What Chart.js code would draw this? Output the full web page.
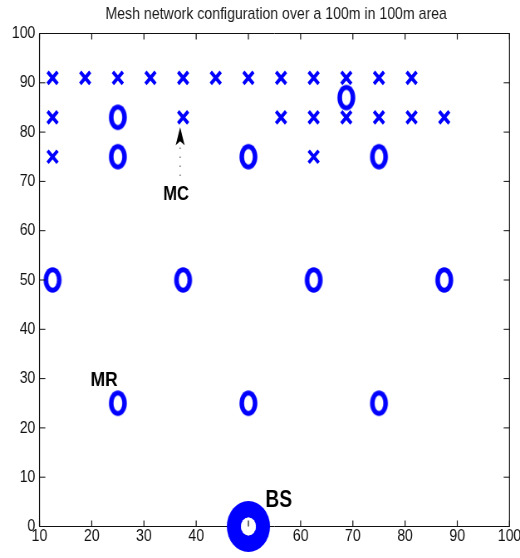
<!DOCTYPE html>
<html>
<head>
<meta charset="utf-8">
<script src="https://cdn.jsdelivr.net/npm/chart.js@4/dist/chart.umd.min.js"></script>
<style>
  html, body { margin: 0; padding: 0; background: #fff; overflow: hidden; }
  #wrap { width: 520px; height: 558px; overflow: hidden; }
  /* the figure is laid out on a wider canvas and squeezed horizontally */
  #c { transform: scaleX(0.830671); transform-origin: 0 0; }
</style>
</head>
<body>
<div id="wrap"><canvas id="c" width="626" height="558"></canvas></div>
<script>
// ---- data ----
const chartTitle = 'Mesh network configuration over a 100m in 100m area';
const xTicks = [10, 20, 30, 40, 50, 60, 70, 80, 90, 100];
const yTicks = [0, 10, 20, 30, 40, 50, 60, 70, 80, 90, 100];

// mesh clients (x markers)
const clientX = [12.5, 18.75, 25, 31.25, 37.5, 43.75, 50, 56.25, 62.5, 68.75, 75, 81.25,
                 12.5, 37.5, 56.25, 62.5, 68.75, 75, 81.25, 87.5,
                 12.5, 62.5];
const clientY = [91, 91, 91, 91, 91, 91, 91, 91, 91, 91, 91, 91,
                 83, 83, 83, 83, 83, 83, 83, 83,
                 75, 75];

// mesh routers (o markers)
const routerX = [25, 25, 50, 75, 68.75, 12.5, 37.5, 62.5, 87.5, 25, 50, 75];
const routerY = [83, 75, 75, 75, 87, 50, 50, 50, 50, 25, 25, 25];

// base station
const baseX = [50];
const baseY = [0];

// text labels on the plot
const labelText = ['MC', 'MR', 'BS'];
const labelX = [36.16, 22.36, 55.81];
const labelY = [66.2, 28.4, 3.86];
const labelSize = [20, 21, 23];

// arrow pointing from the MC label to a client
const arrowX = 36.93;
const arrowFromY = 71.1;
const arrowToY = 81.0;

// ---- styling helpers ----
const FONT = '"Liberation Sans", Arial, Helvetica, sans-serif';
const BLUE = '#0000ff';

function ringImage(outerW, outerH, innerW, innerH, color, holeFill) {
  const c = document.createElement('canvas');
  c.width = Math.ceil(outerW) + 2;
  c.height = Math.ceil(outerH) + 2;
  const g = c.getContext('2d');
  const cx = c.width / 2, cy = c.height / 2;
  g.fillStyle = color;
  g.beginPath();
  g.ellipse(cx, cy, outerW / 2, outerH / 2, 0, 0, Math.PI * 2);
  g.fill();
  g.globalCompositeOperation = 'destination-out';
  g.beginPath();
  g.ellipse(cx, cy, innerW / 2, innerH / 2, 0, 0, Math.PI * 2);
  g.fill();
  if (holeFill) {
    g.globalCompositeOperation = 'source-over';
    g.fillStyle = holeFill;
    g.beginPath();
    g.ellipse(cx, cy, innerW / 2, innerH / 2, 0, 0, Math.PI * 2);
    g.fill();
  }
  return c;
}

const routerMarker = ringImage(21.5, 25.5, 10.5, 15.5, BLUE);
const baseMarker = ringImage(52, 51, 18, 18, BLUE, '#ffffff');

const toPoints = (xs, ys) => xs.map((x, i) => ({ x, y: ys[i] }));

// axes box drawn under the markers
const framePlugin = {
  id: 'frame',
  beforeDatasetsDraw(chart) {
    const { ctx, chartArea: { left, right, top, bottom } } = chart;
    ctx.save();
    ctx.strokeStyle = '#111';
    ctx.lineWidth = 1;
    ctx.beginPath();
    ctx.moveTo(left, top); ctx.lineTo(right, top);
    ctx.moveTo(left, bottom); ctx.lineTo(right, bottom);
    ctx.stroke();
    ctx.lineWidth = 1.2;
    ctx.beginPath();
    ctx.moveTo(left, top); ctx.lineTo(left, bottom);
    ctx.moveTo(right, top); ctx.lineTo(right, bottom);
    ctx.stroke();
    ctx.restore();
  }
};

// inward tick marks on all four sides, labels and the arrow
const overlayPlugin = {
  id: 'overlay',
  afterDatasetsDraw(chart) {
    const { ctx, chartArea: { left, right, top, bottom }, scales: { x, y } } = chart;
    ctx.save();
    ctx.strokeStyle = '#111';
    ctx.lineWidth = 1.2;
    ctx.beginPath();
    x.ticks.forEach(t => {
      const px = x.getPixelForValue(t.value);
      ctx.moveTo(px, bottom); ctx.lineTo(px, bottom - 6);
      ctx.moveTo(px, top); ctx.lineTo(px, top + 6);
    });
    ctx.stroke();
    ctx.lineWidth = 1;
    ctx.beginPath();
    y.ticks.forEach(t => {
      const py = y.getPixelForValue(t.value);
      ctx.moveTo(left, py); ctx.lineTo(left + 7, py);
      ctx.moveTo(right, py); ctx.lineTo(right - 7, py);
    });
    ctx.stroke();

    // dotted arrow shaft
    const ax = x.getPixelForValue(arrowX);
    const ay0 = y.getPixelForValue(arrowFromY);
    const ay1 = y.getPixelForValue(arrowToY);
    const headLen = 18;
    ctx.strokeStyle = '#707070';
    ctx.lineWidth = 1.4;
    ctx.setLineDash([1.5, 7.5]);
    ctx.beginPath();
    ctx.moveTo(ax, ay0);
    ctx.lineTo(ax, ay1 + headLen - 4);
    ctx.stroke();
    ctx.setLineDash([]);
    // arrow head
    ctx.fillStyle = '#000';
    ctx.beginPath();
    ctx.moveTo(ax, ay1);
    ctx.lineTo(ax + 5.4, ay1 + headLen);
    ctx.lineTo(ax, ay1 + headLen - 4);
    ctx.lineTo(ax - 5.4, ay1 + headLen);
    ctx.closePath();
    ctx.fill();

    // text labels
    ctx.textAlign = 'center';
    ctx.textBaseline = 'alphabetic';
    labelText.forEach((txt, i) => {
      ctx.font = `bold ${labelSize[i]}px ${FONT}`;
      ctx.fillText(txt, x.getPixelForValue(labelX[i]), y.getPixelForValue(labelY[i]));
    });
    ctx.restore();
  },
  afterDraw(chart) {
    const { ctx, chartArea: { left, right } } = chart;
    ctx.save();
    ctx.fillStyle = '#1a1a1a';
    ctx.font = `17px ${FONT}`;
    ctx.textAlign = 'center';
    ctx.textBaseline = 'alphabetic';
    ctx.fillText(chartTitle, (left + right) / 2 + 2, 18.5);
    ctx.restore();
  }
};

const tickFont = { family: FONT, size: 17 };

new Chart(document.getElementById('c'), {
  type: 'scatter',
  data: {
    datasets: [
      {
        label: 'BS',
        data: toPoints(baseX, baseY),
        pointStyle: baseMarker,
        pointRadius: 26,
        borderWidth: 0,
        clip: false
      },
      {
        label: 'MR',
        data: toPoints(routerX, routerY),
        pointStyle: routerMarker,
        pointRadius: 12,
        borderWidth: 0,
        clip: false
      },
      {
        label: 'MC',
        data: toPoints(clientX, clientY),
        pointStyle: 'crossRot',
        pointRadius: 8.5,
        borderWidth: 3.8,
        borderColor: BLUE,
        backgroundColor: BLUE,
        clip: false
      }
    ]
  },
  options: {
    responsive: false,
    animation: false,
    devicePixelRatio: 1,
    events: [],
    layout: { autoPadding: false, padding: { top: 33.5, right: 12.64, left: 0, bottom: 0 } },
    plugins: { legend: { display: false }, tooltip: { enabled: false }, title: { display: false } },
    scales: {
      x: {
        type: 'linear',
        min: 10,
        max: 100,
        afterBuildTicks: s => { s.ticks = xTicks.map(v => ({ value: v })); },
        afterFit: s => { s.height = 31.5; s.paddingLeft = 0; s.paddingRight = 0; },
        grid: { display: false, drawTicks: false },
        border: { display: false },
        ticks: { padding: 0, color: '#111', font: tickFont, maxRotation: 0, autoSkip: false }
      },
      y: {
        type: 'linear',
        min: 0,
        max: 100,
        afterBuildTicks: s => { s.ticks = yTicks.map(v => ({ value: v })); },
        afterFit: s => { s.width = 47.55; s.paddingTop = 0; s.paddingBottom = 0; },
        grid: { display: false, drawTicks: false },
        border: { display: false },
        ticks: { padding: 5, color: '#111', font: tickFont, autoSkip: false }
      }
    }
  },
  plugins: [framePlugin, overlayPlugin]
});
</script>
</body>
</html>
